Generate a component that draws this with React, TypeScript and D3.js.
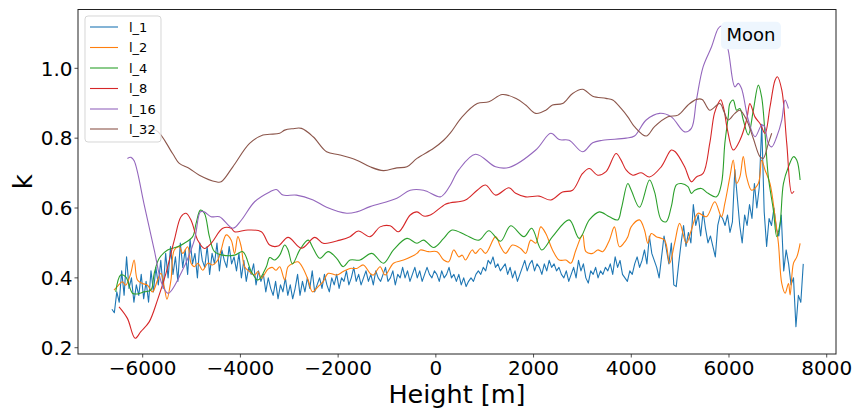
import React from "react";
import * as d3 from "d3";

const W = 857;
const H = 410;
const PL = 78, PR = 836, PT = 9.5, PB = 354;

const xTicks = [-6000, -4000, -2000, 0, 2000, 4000, 6000, 8000];
const yTicks = [0.2, 0.4, 0.6, 0.8, 1.0];

const seriesNames = ["l_1", "l_2", "l_4", "l_8", "l_16", "l_32"];
const seriesColors = ["#1f77b4", "#ff7f0e", "#2ca02c", "#d62728", "#9467bd", "#8c564b"];

// l_1: raw noisy series sampled every 50 m starting at -6630 m
const l1Start = -6630;
const l1Step = 50;
const l1Values = [
  0.31, 0.30, 0.36, 0.33, 0.42, 0.35, 0.46, 0.37, 0.40, 0.33, 0.38,
  0.35, 0.41, 0.34, 0.39, 0.33, 0.42, 0.36, 0.43, 0.38, 0.45,
  0.37, 0.47, 0.40, 0.49, 0.41, 0.46, 0.39, 0.50, 0.43, 0.48,
  0.41, 0.51, 0.44, 0.47, 0.40, 0.50, 0.45, 0.43, 0.49, 0.41,
  0.47, 0.44, 0.50, 0.42, 0.48, 0.45, 0.43, 0.49, 0.44, 0.46,
  0.42, 0.47, 0.40, 0.45, 0.39, 0.43, 0.41, 0.44, 0.38, 0.42,
  0.39, 0.41, 0.36, 0.40, 0.37, 0.35, 0.39, 0.34, 0.38, 0.36,
  0.40, 0.35, 0.38, 0.34, 0.37, 0.41, 0.35, 0.39, 0.36, 0.40,
  0.37, 0.42, 0.36, 0.38, 0.40, 0.37, 0.41, 0.38, 0.36, 0.40,
  0.38, 0.41, 0.37, 0.40, 0.39, 0.42, 0.38, 0.40, 0.43, 0.39,
  0.41, 0.38, 0.40, 0.42, 0.39, 0.41, 0.38, 0.42, 0.40, 0.39,
  0.41, 0.43, 0.39, 0.40, 0.42, 0.38, 0.41, 0.40, 0.43, 0.40,
  0.42, 0.39, 0.41, 0.43, 0.40, 0.42, 0.39, 0.41, 0.43, 0.41,
  0.40, 0.42, 0.41, 0.39, 0.42, 0.40, 0.41, 0.43, 0.40, 0.41,
  0.39, 0.41, 0.38, 0.40, 0.375, 0.39, 0.40, 0.39, 0.41, 0.42,
  0.41, 0.43, 0.42, 0.45, 0.44, 0.46, 0.43, 0.44, 0.42, 0.43,
  0.44, 0.41, 0.43, 0.40, 0.42, 0.39, 0.41, 0.43, 0.45, 0.42,
  0.44, 0.45, 0.42, 0.44, 0.43, 0.41, 0.44, 0.42, 0.45, 0.43,
  0.44, 0.42, 0.43, 0.41, 0.40, 0.42, 0.39, 0.41, 0.43, 0.40,
  0.45, 0.42, 0.44, 0.40, 0.385, 0.42, 0.41, 0.43, 0.40, 0.42,
  0.41, 0.43, 0.42, 0.44, 0.41, 0.46, 0.43, 0.45, 0.41, 0.40,
  0.39, 0.42, 0.41, 0.44, 0.46, 0.43, 0.45, 0.48, 0.44, 0.52,
  0.47, 0.45, 0.43, 0.40, 0.46, 0.52, 0.48, 0.44, 0.50, 0.38,
  0.375, 0.44, 0.50, 0.55, 0.49, 0.53, 0.50, 0.61, 0.55, 0.58,
  0.52, 0.59, 0.54, 0.50, 0.52, 0.49, 0.46, 0.55, 0.58, 0.57,
  0.55, 0.58, 0.53, 0.56, 0.71, 0.63, 0.55, 0.50, 0.58, 0.55,
  0.61, 0.57, 0.67, 0.60, 0.66, 0.84, 0.59, 0.49, 0.57, 0.55,
  0.60, 0.54, 0.52, 0.58, 0.42, 0.48, 0.44, 0.38, 0.40, 0.26,
  0.35, 0.33, 0.44,
];

const l2Points: [number, number][] = [
  [-6587, 0.365], [-6520, 0.375], [-6416, 0.389], [-6347, 0.379], [-6244, 0.413], [-6175, 0.451],
  [-6107, 0.394], [-6004, 0.384], [-5902, 0.379], [-5799, 0.36], [-5696, 0.394], [-5627, 0.413],
  [-5559, 0.375], [-5504, 0.339], [-5421, 0.394], [-5353, 0.48], [-5251, 0.489], [-5182, 0.47],
  [-5080, 0.489], [-5010, 0.442], [-4942, 0.432], [-4870, 0.442], [-4772, 0.422], [-4669, 0.442],
  [-4570, 0.437], [-4463, 0.451], [-4394, 0.48], [-4291, 0.523], [-4188, 0.508], [-4120, 0.47],
  [-4052, 0.518], [-3983, 0.489], [-3915, 0.432], [-3812, 0.418], [-3709, 0.408], [-3640, 0.418],
  [-3572, 0.399], [-3436, 0.425], [-3350, 0.43], [-3270, 0.422], [-3196, 0.432], [-3093, 0.394],
  [-3025, 0.432], [-2922, 0.442], [-2820, 0.446], [-2717, 0.427], [-2614, 0.394], [-2524, 0.36],
  [-2408, 0.375], [-2306, 0.389], [-2203, 0.413], [-2030, 0.408], [-1895, 0.418], [-1757, 0.427],
  [-1619, 0.427], [-1484, 0.437], [-1346, 0.413], [-1280, 0.408], [-1141, 0.432], [-1038, 0.408],
  [-867, 0.442], [-661, 0.451], [-386, 0.47], [-318, 0.48], [-148, 0.475], [25, 0.475],
  [160, 0.451], [263, 0.446], [366, 0.48], [470, 0.46], [540, 0.465], [606, 0.451],
  [744, 0.48], [810, 0.47], [914, 0.484], [1017, 0.47], [1223, 0.518], [1325, 0.489],
  [1428, 0.47], [1566, 0.494], [1736, 0.484], [1839, 0.47], [1942, 0.508], [2045, 0.499],
  [2147, 0.546], [2250, 0.527], [2388, 0.48], [2524, 0.451], [2661, 0.451], [2764, 0.442],
  [2867, 0.48], [3004, 0.523], [3072, 0.475], [3210, 0.47], [3313, 0.48], [3415, 0.475],
  [3552, 0.508], [3654, 0.546], [3757, 0.489], [3850, 0.5], [3930, 0.518], [3997, 0.546],
  [4168, 0.566], [4270, 0.537], [4339, 0.499], [4410, 0.527], [4511, 0.518], [4682, 0.508],
  [4784, 0.442], [4887, 0.499], [4990, 0.556], [5127, 0.499], [5230, 0.537], [5367, 0.585],
  [5538, 0.575], [5709, 0.618], [5846, 0.575], [5915, 0.613], [6018, 0.689], [6087, 0.737],
  [6155, 0.67], [6223, 0.689], [6292, 0.747], [6360, 0.689], [6463, 0.651], [6600, 0.67],
  [6668, 0.737], [6737, 0.709], [6840, 0.67], [6942, 0.575], [7011, 0.499], [7080, 0.384],
  [7148, 0.356], [7217, 0.384], [7251, 0.351], [7320, 0.442], [7388, 0.46], [7456, 0.499],
];

const l4Points: [number, number][] = [
  [-6552, 0.36], [-6450, 0.408], [-6347, 0.403], [-6210, 0.356], [-6107, 0.354], [-5970, 0.36],
  [-5832, 0.365], [-5764, 0.413], [-5661, 0.456], [-5490, 0.48], [-5285, 0.489], [-5148, 0.499],
  [-4977, 0.518], [-4907, 0.556], [-4819, 0.594], [-4737, 0.585], [-4634, 0.518], [-4531, 0.475],
  [-4361, 0.465], [-4120, 0.465], [-3949, 0.475], [-3777, 0.418], [-3641, 0.394], [-3469, 0.432],
  [-3401, 0.458], [-3298, 0.451], [-3196, 0.465], [-3093, 0.494], [-3025, 0.48], [-2935, 0.44],
  [-2785, 0.48], [-2614, 0.508], [-2511, 0.485], [-2374, 0.456], [-2203, 0.475], [-2030, 0.456],
  [-1895, 0.432], [-1757, 0.451], [-1552, 0.451], [-1311, 0.47], [-1073, 0.442], [-867, 0.48],
  [-592, 0.513], [-386, 0.499], [-251, 0.508], [-45, 0.487], [160, 0.513], [333, 0.537],
  [606, 0.523], [880, 0.508], [1085, 0.535], [1325, 0.505], [1531, 0.549], [1804, 0.518],
  [1962, 0.542], [2168, 0.48], [2388, 0.518], [2729, 0.566], [2935, 0.513], [3141, 0.566],
  [3346, 0.589], [3552, 0.575], [3724, 0.566], [3800, 0.6], [3929, 0.67], [4000, 0.651],
  [4168, 0.602], [4373, 0.68], [4476, 0.646], [4613, 0.566], [4716, 0.561], [4819, 0.604],
  [4922, 0.666], [5024, 0.67], [5160, 0.661], [5230, 0.642], [5300, 0.651], [5436, 0.656],
  [5573, 0.642], [5744, 0.632], [5846, 0.67], [5915, 0.785], [5984, 0.861], [6018, 0.899],
  [6087, 0.909], [6155, 0.88], [6223, 0.885], [6292, 0.852], [6395, 0.809], [6498, 0.88],
  [6600, 0.952], [6668, 0.918], [6737, 0.814], [6805, 0.689], [6908, 0.594], [6977, 0.518],
  [7045, 0.556], [7114, 0.67], [7217, 0.718], [7320, 0.747], [7388, 0.737], [7456, 0.68],
];

const l8Points: [number, number][] = [
  [-6484, 0.317], [-6313, 0.284], [-6155, 0.227], [-6038, 0.246], [-5867, 0.274], [-5696, 0.337],
  [-5524, 0.413], [-5353, 0.508], [-5216, 0.575], [-5113, 0.585], [-5010, 0.565], [-4874, 0.508],
  [-4737, 0.484], [-4599, 0.499], [-4361, 0.542], [-4188, 0.542], [-4120, 0.532], [-3847, 0.537],
  [-3572, 0.532], [-3401, 0.494], [-3230, 0.491], [-3025, 0.516], [-2750, 0.485], [-2476, 0.516],
  [-2306, 0.499], [-1962, 0.508], [-1757, 0.518], [-1586, 0.534], [-1346, 0.518], [-1141, 0.546],
  [-935, 0.549], [-764, 0.532], [-524, 0.58], [-386, 0.589], [-251, 0.577], [-113, 0.58],
  [195, 0.611], [298, 0.615], [606, 0.623], [847, 0.651], [1017, 0.666], [1223, 0.637],
  [1496, 0.658], [1634, 0.642], [1839, 0.632], [2113, 0.634], [2353, 0.623], [2593, 0.646],
  [2799, 0.651], [3004, 0.699], [3141, 0.713], [3313, 0.694], [3483, 0.704], [3689, 0.756],
  [3791, 0.737], [3894, 0.709], [4031, 0.694], [4202, 0.701], [4373, 0.689], [4613, 0.718],
  [4819, 0.766], [4900, 0.761], [5092, 0.718], [5230, 0.675], [5333, 0.689], [5470, 0.699],
  [5606, 0.785], [5700, 0.87], [5780, 0.9], [5830, 0.91], [5900, 0.88], [5960, 0.83],
  [6087, 0.766], [6223, 0.794], [6360, 0.852], [6428, 0.899], [6531, 0.861], [6634, 0.842],
  [6737, 0.814], [6840, 0.89], [6942, 0.966], [6990, 0.976], [7080, 0.938], [7182, 0.785],
  [7285, 0.642], [7330, 0.648],
];

const l16Points: [number, number][] = [
  [-6313, 0.742], [-6240, 0.745], [-6175, 0.735], [-5970, 0.61], [-5764, 0.48], [-5600, 0.38],
  [-5477, 0.356], [-5216, 0.413], [-4942, 0.508], [-4819, 0.589], [-4740, 0.589], [-4599, 0.575],
  [-4428, 0.575], [-4155, 0.542], [-3983, 0.565], [-3709, 0.618], [-3401, 0.646], [-3264, 0.653],
  [-3128, 0.637], [-2853, 0.637], [-2511, 0.623], [-2236, 0.602], [-1825, 0.585], [-1619, 0.589],
  [-1346, 0.604], [-797, 0.628], [-524, 0.651], [-251, 0.651], [92, 0.632], [195, 0.644],
  [298, 0.666], [469, 0.709], [812, 0.754], [1223, 0.718], [1496, 0.716], [2045, 0.766],
  [2353, 0.814], [2524, 0.796], [2729, 0.794], [3004, 0.761], [3210, 0.787], [3415, 0.794],
  [3894, 0.8], [4065, 0.806], [4305, 0.852], [4579, 0.871], [4819, 0.861], [5092, 0.818],
  [5230, 0.828], [5333, 0.909], [5470, 1.004], [5641, 1.061], [5779, 1.114], [5846, 1.121],
  [5984, 1.052], [6120, 0.947], [6190, 0.957], [6257, 0.942], [6395, 0.852], [6531, 0.804],
  [6668, 0.837], [6720, 0.835], [6805, 0.785], [6874, 0.775], [6977, 0.804], [7080, 0.852],
  [7148, 0.909], [7217, 0.885],
];

const l32Points: [number, number][] = [
  [-6004, 0.818], [-5730, 0.823], [-5388, 0.756], [-5251, 0.728], [-5045, 0.713], [-4840, 0.694],
  [-4497, 0.675], [-4394, 0.675], [-4155, 0.718], [-3812, 0.785], [-3539, 0.809], [-3401, 0.811],
  [-3196, 0.814], [-3093, 0.823], [-2935, 0.827], [-2750, 0.828], [-2511, 0.804], [-2236, 0.761],
  [-1962, 0.752], [-1619, 0.737], [-1346, 0.718], [-1073, 0.707], [-797, 0.715], [-592, 0.718],
  [-386, 0.742], [-45, 0.771], [160, 0.794], [298, 0.815], [538, 0.861], [847, 0.899],
  [1085, 0.904], [1360, 0.925], [1634, 0.914], [1839, 0.895], [2045, 0.871], [2250, 0.88],
  [2388, 0.895], [2593, 0.899], [2799, 0.928], [3004, 0.94], [3210, 0.92], [3483, 0.914],
  [3621, 0.909], [3791, 0.885], [3929, 0.861], [4065, 0.833], [4305, 0.806], [4476, 0.833],
  [4751, 0.861], [4957, 0.866], [5162, 0.895], [5333, 0.911], [5450, 0.911], [5606, 0.88],
  [5812, 0.899], [5900, 0.875], [5984, 0.852], [6120, 0.871], [6223, 0.88], [6360, 0.852],
  [6498, 0.799], [6634, 0.747], [6700, 0.742], [6805, 0.785], [6874, 0.814],
];

const xLabel = "Height [m]";
const yLabel = "k";
const annotation = "Moon";

export default function App() {
  const x = d3.scaleLinear().domain([-7324, 8190]).range([PL, PR]);
  const y = d3.scaleLinear().domain([0.182, 1.1684]).range([PB, PT]);

  const l1Points: [number, number][] = l1Values.map((v, i) => [l1Start + i * l1Step, v]);
  const allSeries = [l1Points, l2Points, l4Points, l8Points, l16Points, l32Points];

  const rawLine = d3.line<[number, number]>().x((d) => x(d[0])).y((d) => y(d[1]));
  const smoothLine = d3
    .line<[number, number]>()
    .x((d) => x(d[0]))
    .y((d) => y(d[1]))
    .curve(d3.curveCatmullRom.alpha(0.5));

  const fx = d3.format("d");
  const fy = d3.format(".1f");
  const font = "DejaVu Sans, sans-serif";
  const legendYs = [27, 47.5, 68, 88.5, 109, 129];

  return (
    <svg
      width={W}
      height={H}
      style={{ position: "absolute", left: 0, top: 0, background: "#fff" }}
      fontFamily={font}
    >
      <defs>
        <clipPath id="plotclip">
          <rect x={PL} y={PT} width={PR - PL} height={PB - PT} />
        </clipPath>
      </defs>
      <rect x={0} y={0} width={W} height={H} fill="#fff" />
      <g clipPath="url(#plotclip)">
        {allSeries.map((pts, i) => (
          <path
            key={seriesNames[i]}
            d={(i === 0 ? rawLine : smoothLine)(pts) || ""}
            fill="none"
            stroke={seriesColors[i]}
            strokeWidth={1.1}
            strokeLinejoin="round"
          />
        ))}
      </g>
      <rect x={PL} y={PT} width={PR - PL} height={PB - PT} fill="none" stroke="#222" strokeWidth={1} />
      {xTicks.map((t) => (
        <g key={"xt" + t}>
          <line x1={x(t)} x2={x(t)} y1={PB} y2={PB + 3.5} stroke="#222" strokeWidth={0.8} />
          <text x={x(t)} y={PB + 20.5} fontSize={20} textAnchor="middle" fill="#000">
            {fx(t)}
          </text>
        </g>
      ))}
      {yTicks.map((t) => (
        <g key={"yt" + t}>
          <line x1={PL - 3.5} x2={PL} y1={y(t)} y2={y(t)} stroke="#222" strokeWidth={0.8} />
          <text x={PL - 5.5} y={y(t)} dy="0.36em" fontSize={20} textAnchor="end" fill="#000">
            {fy(t)}
          </text>
        </g>
      ))}
      <text x={(PL + PR) / 2} y={402.5} fontSize={25.5} textAnchor="middle" fill="#000">
        {xLabel}
      </text>
      <text
        transform={`translate(31.5, ${(PT + PB) / 2}) rotate(-90)`}
        fontSize={26}
        textAnchor="middle"
        fill="#000"
      >
        {yLabel}
      </text>
      <rect x={721} y={21.7} width={60} height={27.6} rx={5} fill="#eef6fe" />
      <text x={751} y={40.7} fontSize={18} textAnchor="middle" fill="#000">
        {annotation}
      </text>
      <rect x={85} y={16} width={76} height={126} rx={3} fill="#fff" fillOpacity={0.8} stroke="#cccccc" strokeOpacity={0.8} />
      {seriesNames.map((n, i) => (
        <g key={"lg" + n}>
          <line x1={90} x2={118} y1={legendYs[i]} y2={legendYs[i]} stroke={seriesColors[i]} strokeWidth={1.1} />
          <text x={129} y={legendYs[i]} dy="0.36em" fontSize={13} fill="#000">
            {n}
          </text>
        </g>
      ))}
    </svg>
  );
}
